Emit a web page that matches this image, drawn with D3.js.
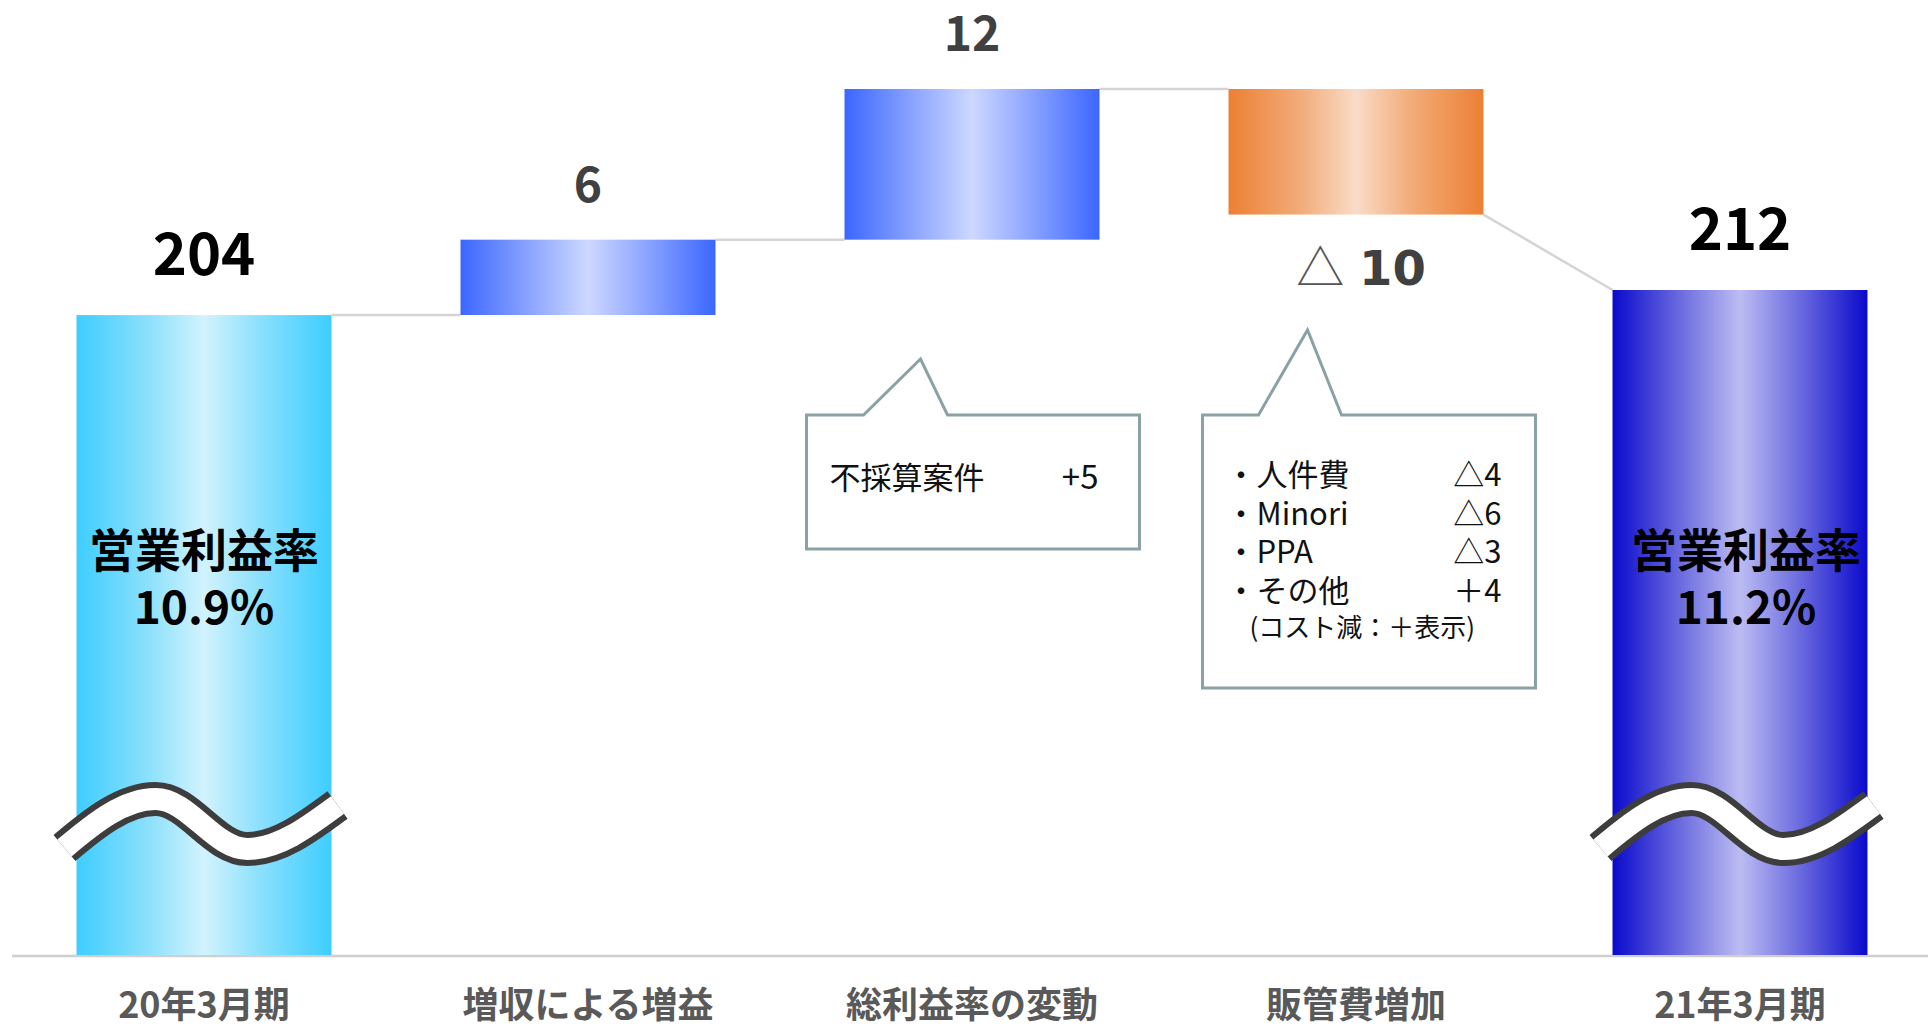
<!DOCTYPE html>
<html>
<head>
<meta charset="utf-8">
<script src="https://cdn.jsdelivr.net/npm/d3@7"></script>
<style>
  html, body { margin: 0; padding: 0; background: #fff; }
  svg { display: block; }
  text { font-family: "Noto Sans CJK JP", "Noto Sans", sans-serif; }
</style>
</head>
<body>
<div id="chart"></div>
<script>
// chart data
const categories = ["20年3月期", "増収による増益", "総利益率の変動", "販管費増加", "21年3月期"];
const values = [204, 6, 12, -10, 212];
const kinds = ["total", "up", "up", "down", "total"];
const valueLabels = ["204", "6", "12", "10", "212"];
const marginTitle = "営業利益率";
const marginLabels = ["10.9%", null, null, null, "11.2%"];
const callout1Items = [["不採算案件", "+5"]];
const callout2Items = [["人件費", "△4"], ["Minori", "△6"], ["PPA", "△3"], ["その他", "＋4"]];
const callout2Note = "(コスト減：＋表示)";

const width = 1928, height = 1030;
const baseY = 955;

const svg = d3.select("#chart").append("svg")
    .attr("width", width)
    .attr("height", height);

const x = d3.scaleBand()
    .domain(categories)
    .range([12, 1932])
    .paddingInner(0.336)
    .paddingOuter(0.168);

// totals are drawn from zero, the steps on a zoomed scale
const totalY = d3.scaleLinear().domain([0, 212]).range([baseY, 290]);
const stepY = d3.scaleLinear().domain([204, 222]).range([315, 89]);

// work out the waterfall
let run = 0;
const bars = values.map((v, i) => {
    const c = categories[i];
    if (kinds[i] === "total") {
        run = v;
        return {c, i, kind: "total", top: totalY(v), bottom: totalY(0), from: v, to: v};
    }
    const from = run, to = run + v;
    run = to;
    return {c, i, kind: kinds[i], top: stepY(Math.max(from, to)), bottom: stepY(Math.min(from, to)), from, to};
});

// gradients
const grads = {
    total0: ["#3ecdff", "#8be0fc", "#d2f3fe", "#8be0fc", "#3ecdff"],
    total4: ["#0a0acc", "#7070e0", "#bcbcf3", "#7070e0", "#0a0acc"],
    up: ["#3b66ff", "#8ea6ff", "#cdd8ff", "#8ea6ff", "#3b66ff"],
    down: ["#ec8034", "#f2ab78", "#f9dcc8", "#f2ab78", "#ec8034"]
};
const defs = svg.append("defs");
Object.keys(grads).forEach(k => {
    const g = defs.append("linearGradient")
        .attr("id", "g-" + k)
        .attr("x1", 0).attr("x2", 1).attr("y1", 0).attr("y2", 0);
    grads[k].forEach((col, j) => {
        g.append("stop").attr("offset", [0, 0.28, 0.5, 0.72, 1][j]).attr("stop-color", col);
    });
});
const gradOf = d => d.kind === "total" ? "url(#g-total" + d.i + ")" : "url(#g-" + d.kind + ")";

// baseline
svg.append("line")
    .attr("x1", 12).attr("x2", width)
    .attr("y1", baseY + 1).attr("y2", baseY + 1)
    .attr("stroke", "#cfcfcf")
    .attr("stroke-width", 2.5);

// connectors
const conn = svg.append("g").attr("stroke", "#d4d4d4").attr("stroke-width", 2.5).attr("fill", "none");
for (let i = 0; i < bars.length - 1; i++) {
    const a = bars[i], b = bars[i + 1];
    const ya = a.kind === "total" ? totalY(a.to) : stepY(a.to);
    const yb = b.kind === "total" ? totalY(b.to) : stepY(b.from);
    conn.append("line")
        .attr("x1", x(a.c) + x.bandwidth()).attr("y1", ya)
        .attr("x2", x(b.c)).attr("y2", yb);
}

// bars
svg.append("g").selectAll("rect")
    .data(bars)
    .join("rect")
    .attr("x", d => x(d.c))
    .attr("y", d => d.top)
    .attr("width", x.bandwidth())
    .attr("height", d => d.bottom - d.top)
    .attr("fill", gradOf);

// value labels
const lab = svg.append("g").attr("text-anchor", "middle").attr("font-weight", 700);
bars.forEach((d, i) => {
    const cx = x(d.c) + x.bandwidth() / 2;
    if (d.kind === "total") {
        lab.append("text")
            .attr("x", cx).attr("y", d.top - 40)
            .attr("font-size", 58).attr("fill", "#000")
            .text(valueLabels[i]);
    } else if (d.kind === "up") {
        lab.append("text")
            .attr("x", cx).attr("y", d.top - 38)
            .attr("font-family", "DejaVu Sans")
            .attr("font-size", 48).attr("fill", "#404040")
            .text(valueLabels[i]);
    } else {
        const t = lab.append("text")
            .attr("x", cx + 5).attr("y", d.bottom + 70)
            .attr("font-size", 48).attr("fill", "#404040");
        t.append("tspan").attr("font-weight", 400).attr("fill", "#555").text("△ ");
        t.append("tspan").attr("font-family", "DejaVu Sans").attr("dx", 4).text(valueLabels[i]);
    }
});

// margin text inside total bars
bars.filter(d => d.kind === "total").forEach(d => {
    const cx = x(d.c) + x.bandwidth() / 2 + (d.i === 0 ? 0 : 6);
    const g = svg.append("g").attr("text-anchor", "middle").attr("font-weight", 700)
        .attr("font-size", 46).attr("fill", "#000");
    g.append("text").attr("x", cx).attr("y", 567).text(marginTitle);
    g.append("text").attr("x", cx).attr("y", 624).text(marginLabels[d.i]);
});

// axis break marks
const wave = "M-139.5,23 C-110,-2 -80,-26 -48.5,-26 C-15,-26 10,24 43.5,24 C75,24 105,1 133.5,-20";
bars.filter(d => d.kind === "total").forEach(d => {
    const g = svg.append("g")
        .attr("transform", `translate(${x(d.c) + x.bandwidth() / 2},825)`)
        .attr("fill", "none");
    g.append("path").attr("d", wave).attr("stroke", "#3d3d3d").attr("stroke-width", 34);
    g.append("path").attr("d", wave).attr("stroke", "#fff").attr("stroke-width", 22);
});

// category labels
svg.append("g").selectAll("text")
    .data(categories)
    .join("text")
    .attr("x", d => x(d) + x.bandwidth() / 2)
    .attr("y", 1018)
    .attr("text-anchor", "middle")
    .attr("font-size", 36)
    .attr("font-weight", 700)
    .attr("fill", "#595959")
    .text(d => d);

// callouts
function callout(left, right, top, bottom, baseL, tipX, tipY, baseR) {
    const p = d3.path();
    p.moveTo(left, top);
    p.lineTo(baseL, top);
    p.lineTo(tipX, tipY);
    p.lineTo(baseR, top);
    p.lineTo(right, top);
    p.lineTo(right, bottom);
    p.lineTo(left, bottom);
    p.closePath();
    svg.append("path")
        .attr("d", p.toString())
        .attr("fill", "#fff")
        .attr("stroke", "#8aa2a5")
        .attr("stroke-width", 3);
}

const b3 = x(categories[2]), b4 = x(categories[3]);
callout(b3 - 38, b3 + 295, 415, 549, b3 + 19, b3 + 76, 359, b3 + 103);
callout(b4 - 26, b4 + 307, 415, 688, b4 + 30, b4 + 79, 330, b4 + 113);

const c1 = svg.append("g").attr("font-size", 31).attr("fill", "#111");
callout1Items.forEach((r, j) => {
    c1.append("text").attr("x", b3 - 15).attr("y", 489 + j * 39).text(r[0]);
    c1.append("text").attr("x", b3 + 254).attr("y", 489 + j * 39)
        .attr("text-anchor", "end").attr("font-size", 33).text(r[1]);
});

const c2 = svg.append("g").attr("font-size", 31).attr("fill", "#111");
callout2Items.forEach((r, j) => {
    const y = 486 + j * 38.7;
    c2.append("text").attr("x", b4 - 3).attr("y", y).text("・" + r[0]);
    c2.append("text").attr("x", b4 + 273).attr("y", y).attr("text-anchor", "end").text(r[1]);
});
c2.append("text").attr("x", b4 + 21).attr("y", 637).attr("font-size", 26).text(callout2Note);
</script>
</body>
</html>
